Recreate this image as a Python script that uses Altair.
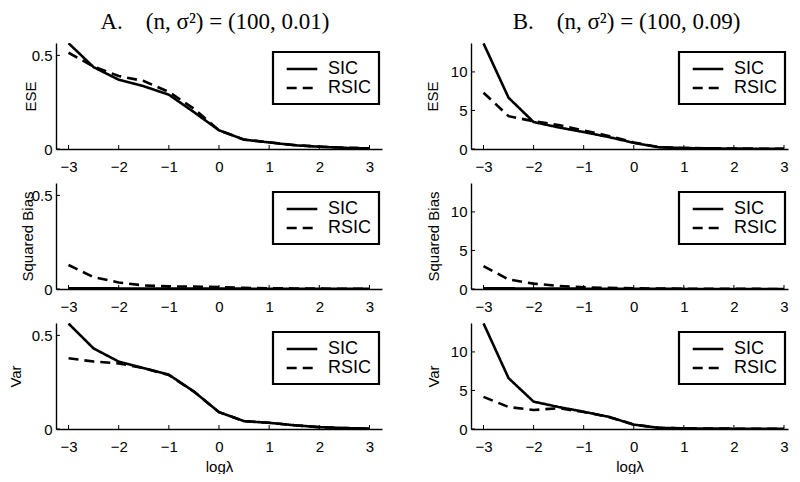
import altair as alt
import pandas as pd

# ---------------- data ----------------
log_lambda = [-3, -2.5, -2, -1.5, -1, -0.5, 0, 0.5, 1, 1.5, 2, 2.5, 3]
methods = ["SIC", "RSIC"]
x_ticks = [-3, -2, -1, 0, 1, 2, 3]

# Panel A: (n, sigma^2) = (100, 0.01)
a_ese_sic = [0.565, 0.437, 0.37, 0.335, 0.29, 0.197, 0.10, 0.05, 0.035, 0.02, 0.012, 0.006, 0.003]
a_ese_rsic = [0.514, 0.44, 0.39, 0.363, 0.305, 0.215, 0.10, 0.05, 0.036, 0.021, 0.013, 0.007, 0.003]
a_bias_sic = [0.004, 0.004, 0.003, 0.003, 0.003, 0.003, 0.002, 0.002, 0.001, 0.001, 0.001, 0.001, 0.001]
a_bias_rsic = [0.128, 0.063, 0.035, 0.019, 0.014, 0.013, 0.010, 0.006, 0.004, 0.003, 0.002, 0.001, 0.001]
a_var_sic = [0.563, 0.43, 0.36, 0.325, 0.29, 0.20, 0.09, 0.042, 0.033, 0.02, 0.01, 0.005, 0.002]
a_var_rsic = [0.378, 0.36, 0.35, 0.325, 0.288, 0.20, 0.09, 0.042, 0.033, 0.02, 0.01, 0.005, 0.002]

# Panel B: (n, sigma^2) = (100, 0.09)
b_ese_sic = [13.7, 6.65, 3.5, 2.8, 2.2, 1.55, 0.8, 0.22, 0.12, 0.08, 0.05, 0.03, 0.02]
b_ese_rsic = [7.3, 4.26, 3.6, 3.1, 2.4, 1.7, 0.85, 0.25, 0.13, 0.09, 0.06, 0.04, 0.03]
b_bias_sic = [0.1, 0.08, 0.06, 0.05, 0.04, 0.03, 0.02, 0.01, 0.01, 0.005, 0.005, 0.003, 0.002]
b_bias_rsic = [2.97, 1.24, 0.7, 0.4, 0.22, 0.15, 0.1, 0.06, 0.04, 0.02, 0.01, 0.01, 0.005]
b_var_sic = [13.7, 6.6, 3.55, 2.85, 2.24, 1.58, 0.57, 0.15, 0.08, 0.06, 0.04, 0.03, 0.02]
b_var_rsic = [4.17, 2.85, 2.46, 2.7, 2.2, 1.56, 0.57, 0.15, 0.08, 0.06, 0.04, 0.03, 0.02]

a_y_ticks = [0, 0.5]
b_y_ticks = [0, 5, 10]

title_a = "A.\u2003(n, σ²) = (100, 0.01)"
title_b = "B.\u2003(n, σ²) = (100, 0.09)"

FONT = "Liberation Sans"
LEG_W = 106


def panel(sic, rsic, ydom, yticks, ytitle, title_x, xdom, width, height, show_xtitle):
    df = pd.DataFrame({
        "x": log_lambda * 2,
        "v": sic + rsic,
        "method": ["SIC"] * len(sic) + ["RSIC"] * len(rsic),
    })
    xenc = alt.X(
        "x:Q",
        scale=alt.Scale(domain=xdom, nice=False, zero=False),
        axis=alt.Axis(values=x_ticks, ticks=False, tickSize=0, labelPadding=10, format="~r",
                      title="logλ" if show_xtitle else None, titlePadding=5),
    )
    yenc = alt.Y(
        "v:Q",
        scale=alt.Scale(domain=ydom, nice=False, zero=True),
        axis=alt.Axis(values=yticks, ticks=False, tickSize=0, labelPadding=4, format="~r",
                      title=ytitle, titleX=title_x, titleY=height / 2,
                      titleAlign="center", titleBaseline="middle"),
    )
    line = alt.Chart(df).mark_line(color="black", strokeWidth=2.6, clip=True).encode(
        x=xenc,
        y=yenc,
        strokeDash=alt.StrokeDash(
            "method:N",
            scale=alt.Scale(domain=methods, range=[[1, 0], [10, 6]]),
            legend=alt.Legend(title=None, orient="none", legendX=width - 3 - LEG_W, legendY=9),
        ),
    )
    xt = alt.Chart(pd.DataFrame({"x": x_ticks})).mark_rule(color="black", strokeWidth=1).encode(
        x=xenc, y=alt.value(height), y2=alt.value(height - 4)
    )
    yt = alt.Chart(pd.DataFrame({"v": yticks})).mark_rule(color="black", strokeWidth=1).encode(
        y=yenc, x=alt.value(0), x2=alt.value(4)
    )
    return alt.layer(line, xt, yt).properties(width=width, height=height)


H = 106
WA, WB = 326, 317
XA = [-3.25, 3.25]
XB = [-3.25, 3.08]
YA = [0, 0.566]
YB = [0, 13.75]


def column(panels, title):
    return alt.vconcat(*panels, spacing=9).resolve_scale(
        strokeDash="independent", x="independent", y="independent"
    ).resolve_legend(strokeDash="independent").properties(
        title=alt.TitleParams(text=title, font="Liberation Serif", fontSize=23, fontWeight="normal",
                              anchor="middle", offset=9, dx=20, color="black")
    )


colA = column([
    panel(a_ese_sic, a_ese_rsic, YA, a_y_ticks, "ESE", -26, XA, WA, H, False),
    panel(a_bias_sic, a_bias_rsic, YA, a_y_ticks, "Squared Bias", -29, XA, WA, H, False),
    panel(a_var_sic, a_var_rsic, YA, a_y_ticks, "Var", -41, XA, WA, H, True),
], title_a)

colB = column([
    panel(b_ese_sic, b_ese_rsic, YB, b_y_ticks, "ESE", -39, XB, WB, H, False),
    panel(b_bias_sic, b_bias_rsic, YB, b_y_ticks, "Squared Bias", -38, XB, WB, H, False),
    panel(b_var_sic, b_var_rsic, YB, b_y_ticks, "Var", -38, XB, WB, H, True),
], title_b)

chart = alt.hconcat(colA, colB, spacing=43).resolve_scale(
    strokeDash="independent", x="independent", y="independent"
).resolve_legend(strokeDash="independent").properties(
    padding={"top": 3, "left": 0, "right": 0, "bottom": 0}, background="white"
).configure_view(
    stroke=None
).configure_axis(
    grid=False,
    domainColor="black",
    domainWidth=1.4,
    labelFont=FONT,
    labelFontSize=15,
    labelColor="black",
    titleFont=FONT,
    titleFontSize=15,
    titleFontWeight="normal",
    titleColor="black",
).configure_legend(
    strokeColor="black",
    strokeWidth=2.2,
    fillColor="white",
    padding=7,
    labelFont=FONT,
    labelFontSize=18,
    labelColor="black",
    labelOffset=16,
    rowPadding=0,
    symbolType="M-1.8,0H1.8",
    symbolSize=289,
    symbolOffset=12,
    symbolStrokeWidth=2.5,
    symbolStrokeColor="black",
)

chart.save("out.html", embed_options={"renderer": "svg", "actions": False})
